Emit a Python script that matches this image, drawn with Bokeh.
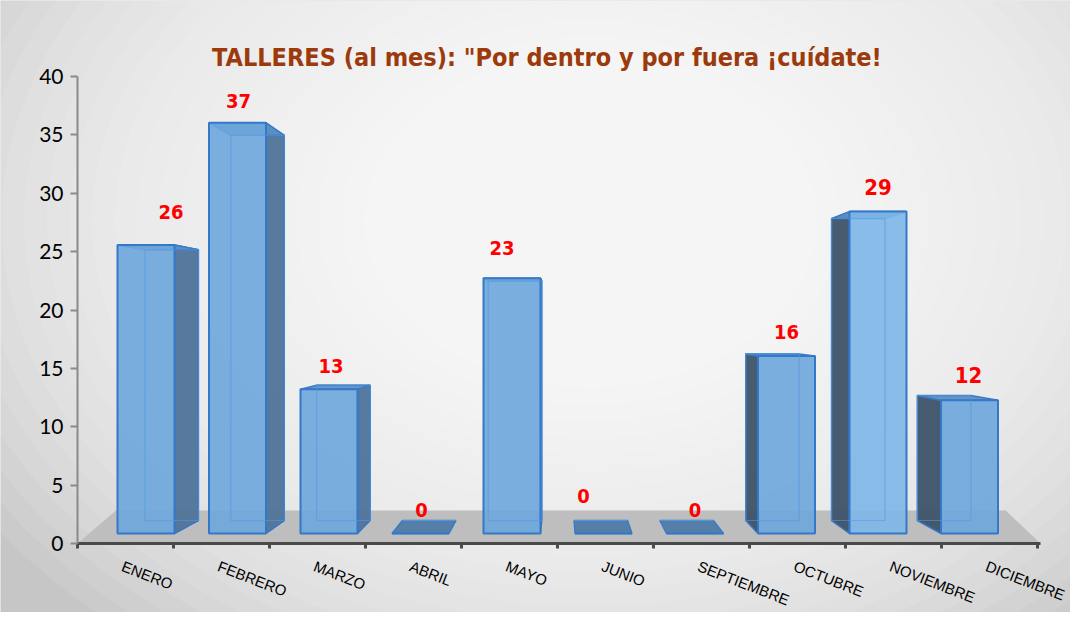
import numpy as np
from bokeh.plotting import figure
from bokeh.models import Range1d, FixedTicker, ColumnDataSource, Label
from bokeh.core.properties import value
from bokeh.embed import file_html
from bokeh.resources import INLINE

# ---------------- data ----------------
months = ["ENERO", "FEBRERO", "MARZO", "ABRIL", "MAYO", "JUNIO",
          "SEPTIEMBRE", "OCTUBRE", "NOVIEMBRE", "DICIEMBRE"]
talleres = [26, 37, 13, 0, 23, 0, 0, 16, 29, 12]
y_ticks = [0, 5, 10, 15, 20, 25, 30, 35, 40]
title_text = 'TALLERES (al mes): "Por dentro y por fuera ¡cuídate!'

# ---------------- style / geometry ----------------
PX_X = 96.0          # pixels per category
PX_Y = 11.675        # pixels per value unit on the axis
ORIGIN_X = 77        # pixel position of the value axis
BAR_SCALE = 11.1 / PX_Y   # perspective shrink of the bars vs axis
BASE = 10 / PX_Y          # bars stand on the floor, slightly above 0
FACE_W = 57 / PX_X
VP = ((560 - ORIGIN_X) / PX_X, (543 - 324) / PX_Y)   # vanishing point
DEPTH = 0.062
label_dx = [25, 1, 2, 1, -10, -20, 0, 0, 0, -1]
label_dy = [-33, -22, -23, -24, -30, -38, -24, -24, -25, -25]
label_size = ["20px"] * 8 + ["22px", "22px"]
NARROW = "Liberation Sans Narrow, Arial Narrow, DejaVu Sans Condensed, Roboto Condensed, Noto Sans"

W, H = 1070, 612
x_min = -ORIGIN_X / PX_X
x_max = (W - ORIGIN_X) / PX_X
y_min = -(H - 543) / PX_Y
y_max = 543 / PX_Y

p = figure(width=W, height=H, output_backend="svg", toolbar_location=None,
           x_range=Range1d(x_min, x_max), y_range=Range1d(y_min, y_max),
           min_border_left=0, min_border_right=0, min_border_top=0, min_border_bottom=0)
p.background_fill_color = "#C6C6C6"
p.border_fill_color = "#C6C6C6"
p.outline_line_color = None
p.grid.visible = False

# radial background glow
n_glow = 32
for k in range(n_glow):
    w = 1450 * (1 - k / n_glow)
    p.ellipse(x=[(590 - ORIGIN_X) / PX_X], y=[(543 - 220) / PX_Y], width=[w], height=[w * 0.74],
              width_units="screen", height_units="screen",
              fill_color="white", fill_alpha=0.09, line_color=None)

# floor
fx = [0, 10.03, 9.67, 0.40]
fy = [0, 0, 33 / PX_Y, 33 / PX_Y]
p.patch(fx, fy, fill_color="#BEBEBE", line_color=None)

# bars geometry
def back(x, y):
    return x + DEPTH * (VP[0] - x), y + DEPTH * (VP[1] - y)

back_src = dict(l=[], r=[], b=[], t=[])
side_xs, side_ys, side_col = [], [], []
top_xs, top_ys, top_col = [], [], []
front = dict(l=[], r=[], b=[], t=[], fill=[])
lab = dict(x=[], y=[], text=[], dx=[], dy=[], size=[])

for i, v in enumerate(talleres):
    x0 = i + (40 - 4.5 * i) / PX_X
    x1 = x0 + FACE_W
    y0 = BASE
    y1 = BASE + v * BAR_SCALE
    bx0, by0 = back(x0, y0)
    bx1, by1 = back(x1, y1)
    back_src["l"].append(bx0); back_src["r"].append(bx1)
    back_src["b"].append(by0); back_src["t"].append(by1)
    if v > 0:
        if x1 < VP[0]:
            side_xs.append([x1, bx1, bx1, x1]); side_ys.append([y0, by0, by1, y1])
            side_col.append("#4F7399")
        elif x0 > VP[0]:
            side_xs.append([x0, bx0, bx0, x0]); side_ys.append([y0, by0, by1, y1])
            side_col.append("#3D5269")
    top_xs.append([x0, x1, bx1, bx0]); top_ys.append([y1, y1, by1, by1])
    top_col.append("#4F7BA7" if v == 0 else "#5E8FC4")
    front["l"].append(x0); front["r"].append(x1)
    front["b"].append(y0); front["t"].append(y1)
    front["fill"].append("#6DA6DC" if i != 8 else "#7DB6E8")
    lab["x"].append((x0 + x1) / 2); lab["y"].append(y1)
    lab["text"].append(str(v)); lab["dx"].append(label_dx[i]); lab["dy"].append(label_dy[i])
    lab["size"].append(label_size[i])

p.quad(left="l", right="r", bottom="b", top="t", source=ColumnDataSource(back_src),
       fill_alpha=0, line_color="#5B9BE0", line_width=1.2, line_alpha=0.9)
p.patches(side_xs, side_ys, fill_color=side_col, fill_alpha=0.95,
          line_color="#3677C2", line_width=1.5)
p.patches(top_xs, top_ys, fill_color=top_col, fill_alpha=0.95,
          line_color="#3A7CC6", line_width=1.5)
p.quad(left="l", right="r", bottom="b", top="t", source=ColumnDataSource(front),
       fill_color="fill", fill_alpha=0.9, line_color="#3479C8", line_width=2)
p.quad(left="l", right="r", bottom="b", top="t", source=ColumnDataSource(back_src),
       fill_alpha=0, line_color="#5A9DE2", line_width=1, line_alpha=0.55)

# value labels
p.text(x="x", y="y", text="text", source=ColumnDataSource(lab),
       x_offset="dx", y_offset="dy", text_font_size="size",
       text_font=value(NARROW), text_font_style="bold",
       text_color="#FF0000", text_align="center", text_baseline="middle")

# category labels
cat = dict(x=[i + 0.5 for i in range(len(months))], y=[0] * len(months), text=months)
p.text(x="x", y="y", text="text", source=ColumnDataSource(cat),
       x_offset=0, y_offset=14, angle=-0.37,
       text_font=value("Liberation Sans"), text_font_size="15px",
       text_color="#000000", text_align="left", text_baseline="top")

# y axis, placed at x = 0 inside the frame
ya = p.yaxis[0]
ya.fixed_location = 0
ya.ticker = FixedTicker(ticks=y_ticks)
ya.bounds = (0, 40)
ya.axis_line_color = "#8A8A8A"
ya.axis_line_width = 2
ya.major_tick_line_color = "#8A8A8A"
ya.major_tick_line_width = 2
ya.major_tick_out = 7
ya.major_tick_in = 0
ya.minor_tick_line_color = None
ya.major_label_text_font = "Lato"
ya.major_label_text_font_size = "21px"
ya.major_label_text_color = "#000000"
ya.major_label_standoff = 7

# x axis at value 0
xa = p.xaxis[0]
xa.fixed_location = 0
xa.ticker = FixedTicker(ticks=list(range(0, len(months) + 1)))
xa.bounds = (0, 10.03)
xa.major_label_overrides = {i: "" for i in range(len(months) + 1)}
xa.axis_line_color = "#4A4A4A"
xa.axis_line_width = 3
xa.major_tick_line_color = "#4A4A4A"
xa.major_tick_line_width = 3
xa.major_tick_out = 5
xa.major_tick_in = 0
xa.minor_tick_line_color = None

# title
p.add_layout(Label(x=(546.5 - ORIGIN_X) / PX_X, y=(543 - 57) / PX_Y, text=title_text,
                   text_font=NARROW, text_font_style="bold",
                   text_font_size="25px", text_color="#9C3A0C",
                   text_align="center", text_baseline="alphabetic"))

open("out.html", "w").write(file_html(p, INLINE))
